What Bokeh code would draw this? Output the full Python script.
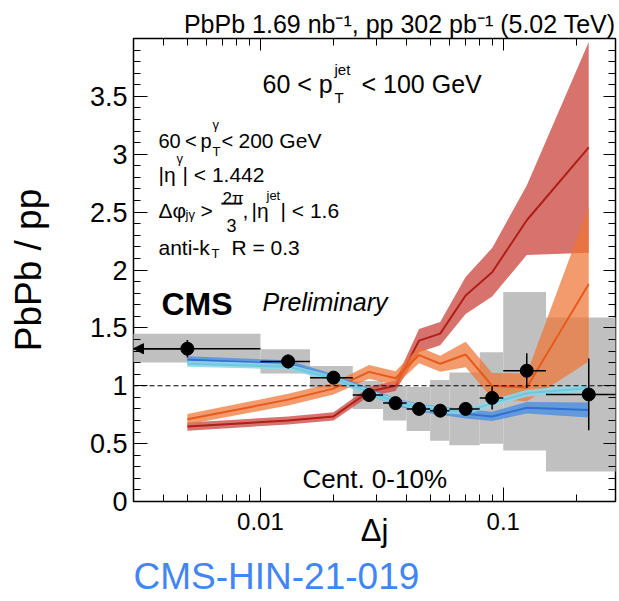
import numpy as np
from bokeh.plotting import figure
from bokeh.models import (FixedTicker, LogAxis, LinearAxis, Label, Span, Arrow,
                          NormalHead, BoxAnnotation, Title)
from bokeh.embed import file_html
from bokeh.resources import INLINE

# ---------------- data ----------------
# bin edges in delta-j (first bin starts at 0, shown off the left edge)
BIN_LO = [0.001, 0.01, 0.016, 0.024, 0.032, 0.04, 0.05, 0.06, 0.08, 0.1, 0.15]
BIN_HI = [0.01, 0.016, 0.024, 0.032, 0.04, 0.05, 0.06, 0.08, 0.1, 0.15, 0.3]
DJ = [0.005, 0.013, 0.02, 0.028, 0.036, 0.045, 0.055, 0.07, 0.09, 0.125, 0.225]

# CMS data: PbPb/pp ratio, stat errors, systematic boxes
RATIO = [1.32, 1.21, 1.07, 0.92, 0.85, 0.80, 0.785, 0.80, 0.895, 1.13, 0.925]
STAT = [0.075, 0.06, 0.04, 0.03, 0.03, 0.025, 0.02, 0.05, 0.10, 0.15, 0.31]
SYS_LO = [1.20, 1.105, 0.985, 0.80, 0.70, 0.61, 0.525, 0.485, 0.50, 0.44, 0.26]
SYS_HI = [1.45, 1.315, 1.17, 1.04, 1.00, 0.99, 1.05, 1.115, 1.29, 1.81, 1.59]

# model curves (value, half-width of band)
RED = [0.647, 0.70, 0.735, 0.95, 1.00, 1.39, 1.45, 1.78, 1.98, 2.43, 3.06]
RED_ERR = [0.035, 0.035, 0.035, 0.04, 0.045, 0.10, 0.10, 0.16, 0.21, 0.30, 0.91]
ORANGE = [0.71, 0.88, 0.975, 1.12, 1.065, 1.265, 1.19, 1.27, 1.0, 0.985, 1.88]
ORANGE_ERR = [0.045, 0.05, 0.05, 0.06, 0.06, 0.07, 0.07, 0.11, 0.11, 0.12, 0.67]
BLUE = [1.225, 1.19, 1.07, 0.95, 0.86, 0.81, 0.785, 0.757, 0.735, 0.81, 0.79]
BLUE_ERR = [0.03, 0.03, 0.03, 0.03, 0.03, 0.035, 0.035, 0.04, 0.04, 0.05, 0.065]
CYAN = [1.19, 1.165, 1.06, 0.945, 0.86, 0.815, 0.79, 0.775, 0.85, 0.935, 0.98]
CYAN_ERR = [0.025, 0.025, 0.025, 0.025, 0.025, 0.025, 0.025, 0.025, 0.03, 0.03, 0.03]

X_TICKS = [0.01, 0.1]
X_TICK_LABELS = ["0.01", "0.1"]
Y_TICKS = [0, 0.5, 1, 1.5, 2, 2.5, 3, 3.5]
Y_TICK_LABELS = ["0", "0.5", "1", "1.5", "2", "2.5", "3", "3.5"]
X_START, X_END = 0.003, 0.29
Y_START, Y_END = 0.0, 4.0

FONT = "Liberation Sans"
FL, FT, FB = 133, 38, 501   # frame left / top / bottom in page pixels
FR = 615                    # frame right

# ---------------- figure ----------------
p = figure(frame_width=FR - FL, frame_height=FB - FT, x_axis_type="log",
           x_range=(X_START, X_END), y_range=(Y_START, Y_END),
           output_backend="svg", toolbar_location=None,
           min_border_left=FL, min_border_right=2,
           min_border_top=FT, min_border_bottom=99)
p.background_fill_color = "white"
p.border_fill_color = "white"
p.xgrid.visible = False
p.ygrid.visible = False
p.outline_line_color = "black"
p.outline_line_width = 1.5
p.outline_line_alpha = 1.0

p.title.text = "PbPb 1.69 nb⁻¹, pp 302 pb⁻¹ (5.02 TeV)"
p.title.align = "right"
p.title.text_font = FONT
p.title.text_font_size = "25px"
p.title.text_font_style = "normal"
p.title.text_color = "black"
p.title.standoff = 2

x_minor = [m * 10.0 ** e for e in (-3, -2, -1) for m in range(2, 10)]
y_minor = [round(v, 2) for v in np.arange(0.1, 4.0, 0.1)]
xt = FixedTicker(ticks=X_TICKS, minor_ticks=x_minor)
yt = FixedTicker(ticks=Y_TICKS, minor_ticks=y_minor)


def style_axis(ax, major=14, minor=7):
    ax.axis_line_color = None
    ax.major_tick_in = major
    ax.major_tick_out = 0
    ax.minor_tick_in = minor
    ax.minor_tick_out = 0
    ax.major_tick_line_color = "black"
    ax.minor_tick_line_color = "black"
    ax.major_tick_line_width = 1
    ax.minor_tick_line_width = 1


xa = p.xaxis[0]
xa.ticker = xt
style_axis(xa)
xa.major_label_overrides = dict(zip(X_TICKS, X_TICK_LABELS))
xa.major_label_text_font = FONT
xa.major_label_text_font_size = "24px"
xa.major_label_text_color = "black"
xa.major_label_standoff = 11
xa.axis_label = "Δj"
xa.axis_label_text_font = FONT
xa.axis_label_text_font_size = "31px"
xa.axis_label_text_font_style = "normal"
xa.axis_label_text_color = "black"
xa.axis_label_standoff = -20

ya = p.yaxis[0]
ya.ticker = yt
style_axis(ya)
ya.major_label_overrides = dict(zip(Y_TICKS, Y_TICK_LABELS))
ya.major_label_text_font = FONT
ya.major_label_text_font_size = "27px"
ya.major_label_text_color = "black"
ya.major_label_standoff = 6
ya.axis_label = "PbPb / pp"
ya.axis_label_text_font = FONT
ya.axis_label_text_font_size = "37px"
ya.axis_label_text_font_style = "normal"
ya.axis_label_text_color = "black"
ya.axis_label_standoff = 38

top_ax = LogAxis(ticker=xt, major_label_text_font_size="1px",
                 major_label_text_alpha=0, major_label_standoff=0)
style_axis(top_ax, 12, 7)
p.add_layout(top_ax, "above")
right_ax = LinearAxis(ticker=yt, major_label_text_font_size="1px",
                      major_label_text_alpha=0, major_label_standoff=0)
style_axis(right_ax, 12, 7)
p.add_layout(right_ax, "right")

p.add_layout(Title(text="CMS-HIN-21-019", align="left", text_font=FONT,
                   text_font_size="37px", text_font_style="normal",
                   text_color="#4285f4", standoff=7), "below")

# ---------------- glyphs ----------------
p.quad(left=BIN_LO, right=BIN_HI, bottom=SYS_LO, top=SYS_HI,
       fill_color="#c0c0c0", line_color=None)


def band(vals, errs, fill, alpha, line, lw):
    v = np.array(vals)
    e = np.array(errs)
    p.varea(x=DJ, y1=v - e, y2=v + e, fill_color=fill, fill_alpha=alpha)
    p.line(x=DJ, y=v, line_color=line, line_width=lw)


band(RED, RED_ERR, "#cc4b42", 0.78, "#b01e18", 2)
band(ORANGE, ORANGE_ERR, "#ee7533", 0.72, "#e65a1c", 2)
band(BLUE, BLUE_ERR, "#4a8fe0", 0.8, "#2f70d0", 2)
band(CYAN, CYAN_ERR, "#8ed6e8", 0.9, "#6ec8de", 2)

p.add_layout(Span(location=1, dimension="width", line_color="black",
                  line_dash="5 3", line_width=1.2))

r = np.array(RATIO)
s = np.array(STAT)
p.segment(x0=BIN_LO, y0=RATIO, x1=BIN_HI, y1=RATIO, line_color="black", line_width=1.5)
p.segment(x0=DJ, y0=r - s, x1=DJ, y1=r + s, line_color="black", line_width=1.5)
p.add_layout(Arrow(end=NormalHead(size=10, fill_color="black", line_color="black"),
                   x_start=DJ[0], y_start=RATIO[0], x_end=X_START, y_end=RATIO[0],
                   line_color="black", line_width=1.5))
p.scatter(DJ, RATIO, size=13, color="black")

# ---------------- texts inside the frame ----------------


def txt(s, X, Y, size, style="normal", color="black", align="left"):
    p.add_layout(Label(x=X - FL, y=FB - Y, x_units="screen", y_units="screen",
                       text=s, text_font=FONT, text_font_size=f"{size}px",
                       text_font_style=style, text_color=color,
                       text_align=align, text_baseline="alphabetic"))


txt("60 < p", 262, 83, 25)
txt("jet", 334, 69, 15)
txt("T", 334, 97, 15)
txt("< 100 GeV", 361, 83, 25)

txt("60", 158, 140, 20)
txt("<", 184.5, 140, 20)
txt("p", 200, 140, 20)
txt("γ", 212, 124, 13)
txt("T", 212, 151, 13)
txt("<", 221, 140, 20)
txt("200 GeV", 238, 140, 21)

txt("|η", 158, 174, 21)
txt("γ", 176, 158, 13)
txt("| < 1.442", 182, 174, 21)

txt("Δφ", 158, 210, 21)
txt("jγ", 185, 214, 13)
txt(">", 200, 210, 21)
txt("2π", 222, 198, 17)
p.add_layout(BoxAnnotation(left=221, right=241, top=202.3, bottom=204.0,
                           left_units="canvas", right_units="canvas",
                           top_units="canvas", bottom_units="canvas",
                           fill_color="black", fill_alpha=1,
                           line_color="black", line_width=0.6))
txt("3", 226, 225, 18)
txt(",", 242, 210, 21)
txt("|η", 251, 210, 21)
txt("jet", 266, 195, 13)
txt("| < 1.6", 280, 210, 21)

txt("anti-k", 158, 247, 21)
txt("T", 211, 253, 13)
txt("R = 0.3", 231, 247, 21)

txt("CMS", 161, 303, 32, style="bold")
txt("Preliminary", 262, 301, 25, style="italic")

txt("Cent. 0-10%", 302, 478, 26)

open("out.html", "w").write(file_html(p, INLINE))
